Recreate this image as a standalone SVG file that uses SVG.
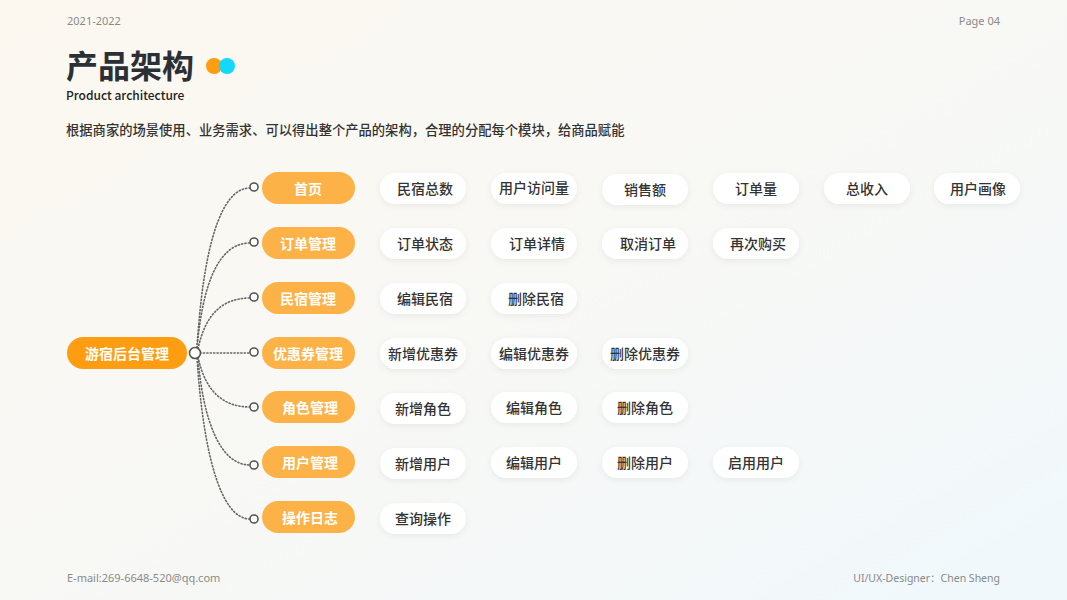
<svg xmlns="http://www.w3.org/2000/svg" width="1067" height="600" viewBox="0 0 1067 600">
<defs>
<linearGradient id="bg" x1="0" y1="0" x2="1" y2="1">
<stop offset="0" stop-color="#fcf8f0"/>
<stop offset="0.5" stop-color="#f8f8f5"/>
<stop offset="1" stop-color="#f0f8fc"/>
</linearGradient>
<filter id="sh" x="-20%" y="-40%" width="140%" height="180%">
<feDropShadow dx="0" dy="2" stdDeviation="3" flood-color="#000" flood-opacity="0.06"/>
</filter>
</defs>
<style>
text{font-family:"Noto Sans CJK SC","Noto Sans",sans-serif}
.meta{font-size:11px;fill:#8a8a8a;font-family:"Noto Sans","Noto Sans CJK SC",sans-serif}
.l1 rect{fill:#fdb247}
.l1 text,.root text{fill:#fff;font-size:14px;font-weight:700;text-anchor:middle;dominant-baseline:central}
.leaf rect{fill:#fff;filter:url(#sh)}
.leaf text{fill:#333;font-size:14px;font-weight:500;text-anchor:middle;dominant-baseline:central}
.con path{fill:none;stroke:#666;stroke-width:1.6;stroke-dasharray:1.2 2.2;stroke-linecap:round}
.dot{fill:#fff;stroke:#555;stroke-width:1.6}
</style>
<rect width="1067" height="600" fill="url(#bg)"/>
<text class="meta" x="67" y="25">2021-2022</text>
<text class="meta" x="1000" y="25" text-anchor="end">Page 04</text>
<text x="66" y="78" font-size="32" font-weight="700" fill="#2b2f36">产品架构</text>
<circle cx="214" cy="66" r="8" fill="#ff9d12"/>
<circle cx="227" cy="66" r="8" fill="#12d8fa"/>
<text x="66" y="100" font-size="12" font-weight="500" fill="#222" font-family="Noto Sans,sans-serif">Product architecture</text>
<text x="66" y="135" font-size="13.3" font-weight="500" fill="#333">根据商家的场景使用、业务需求、可以得出整个产品的架构，合理的分配每个模块，给商品赋能</text>
<text class="meta" x="67" y="582">E-mail:269-6648-520@qq.com</text>
<text class="meta" x="1000" y="582" text-anchor="end" style="font-size:10.5px">UI/UX-Designer：Chen Sheng</text>

<g class="con">
<path d="M197,348 C203,250 220,188 250,188"/>
<path d="M197,348 C203,280 220,243 250,243"/>
<path d="M198,349 C205,315 222,298 250,298"/>
<path d="M200,353 L250,353"/>
<path d="M198,357 C205,390 222,407 250,407"/>
<path d="M198,358 C203,420 220,465 250,465"/>
<path d="M197,358 C203,450 220,519 250,519"/>
</g>

<g id="root" class="root"><rect x="67" y="337" width="120" height="32" rx="16" fill="#ff9d12"/><text x="127" y="353">游宿后台管理</text></g>
<circle class="dot" cx="195" cy="353" r="5.5"/>
<g class="dots">
<circle class="dot" cx="254" cy="187" r="4"/>
<circle class="dot" cx="254" cy="242" r="4"/>
<circle class="dot" cx="254" cy="297" r="4"/>
<circle class="dot" cx="254" cy="352" r="4"/>
<circle class="dot" cx="254" cy="407" r="4"/>
<circle class="dot" cx="254" cy="465" r="4"/>
<circle class="dot" cx="254" cy="519" r="4"/>
</g>

<g id="n1" class="l1"><rect x="262" y="172" width="93" height="32" rx="16"/><text x="308" y="188">首页</text></g>
<g id="n2" class="l1"><rect x="262" y="227" width="93" height="32" rx="16"/><text x="308" y="243">订单管理</text></g>
<g id="n3" class="l1"><rect x="262" y="282" width="93" height="32" rx="16"/><text x="308" y="298">民宿管理</text></g>
<g id="n4" class="l1"><rect x="262" y="337" width="93" height="32" rx="16"/><text x="308" y="353">优惠券管理</text></g>
<g id="n5" class="l1"><rect x="262" y="391" width="93" height="32" rx="16"/><text x="310" y="407">角色管理</text></g>
<g id="n6" class="l1"><rect x="262" y="446" width="93" height="32" rx="16"/><text x="310" y="462">用户管理</text></g>
<g id="n7" class="l1"><rect x="262" y="501" width="93" height="32" rx="16"/><text x="310" y="517">操作日志</text></g>

<g class="leaf">
<g id="a1"><rect x="380" y="173" width="86" height="31" rx="15.5"/><text x="425" y="188">民宿总数</text></g>
<g id="a2"><rect x="491" y="173" width="86" height="31" rx="15.5"/><text x="534" y="187">用户访问量</text></g>
<g id="a3"><rect x="602" y="174" width="86" height="31" rx="15.5"/><text x="645" y="189">销售额</text></g>
<g id="a4"><rect x="713" y="173" width="86" height="31" rx="15.5"/><text x="756" y="188">订单量</text></g>
<g id="a5"><rect x="824" y="173" width="86" height="31" rx="15.5"/><text x="867" y="188">总收入</text></g>
<g id="a6"><rect x="934" y="173" width="86" height="31" rx="15.5"/><text x="978" y="188">用户画像</text></g>

<g id="b1"><rect x="380" y="228" width="86" height="31" rx="15.5"/><text x="425" y="243">订单状态</text></g>
<g id="b2"><rect x="491" y="228" width="86" height="31" rx="15.5"/><text x="537" y="243">订单详情</text></g>
<g id="b3"><rect x="602" y="228" width="86" height="31" rx="15.5"/><text x="648" y="243">取消订单</text></g>
<g id="b4"><rect x="713" y="228" width="86" height="31" rx="15.5"/><text x="758" y="243">再次购买</text></g>

<g id="c1"><rect x="380" y="283" width="86" height="31" rx="15.5"/><text x="425" y="298">编辑民宿</text></g>
<g id="c2"><rect x="491" y="283" width="86" height="31" rx="15.5"/><text x="536" y="298">删除民宿</text></g>

<g id="d1"><rect x="380" y="338" width="86" height="31" rx="15.5"/><text x="423" y="353">新增优惠券</text></g>
<g id="d2"><rect x="491" y="338" width="86" height="31" rx="15.5"/><text x="534" y="353">编辑优惠券</text></g>
<g id="d3"><rect x="602" y="338" width="86" height="31" rx="15.5"/><text x="645" y="353">删除优惠券</text></g>

<g id="e1"><rect x="380" y="393" width="86" height="31" rx="15.5"/><text x="423" y="408">新增角色</text></g>
<g id="e2"><rect x="491" y="392" width="86" height="31" rx="15.5"/><text x="534" y="407">编辑角色</text></g>
<g id="e3"><rect x="602" y="392" width="86" height="31" rx="15.5"/><text x="645" y="407">删除角色</text></g>

<g id="f1"><rect x="380" y="448" width="86" height="31" rx="15.5"/><text x="423" y="463">新增用户</text></g>
<g id="f2"><rect x="491" y="447" width="86" height="31" rx="15.5"/><text x="534" y="462">编辑用户</text></g>
<g id="f3"><rect x="602" y="447" width="86" height="31" rx="15.5"/><text x="645" y="462">删除用户</text></g>
<g id="f4"><rect x="713" y="447" width="86" height="31" rx="15.5"/><text x="756" y="462">启用用户</text></g>

<g id="g1"><rect x="380" y="503" width="86" height="31" rx="15.5"/><text x="423" y="518">查询操作</text></g>
</g>
</svg>
